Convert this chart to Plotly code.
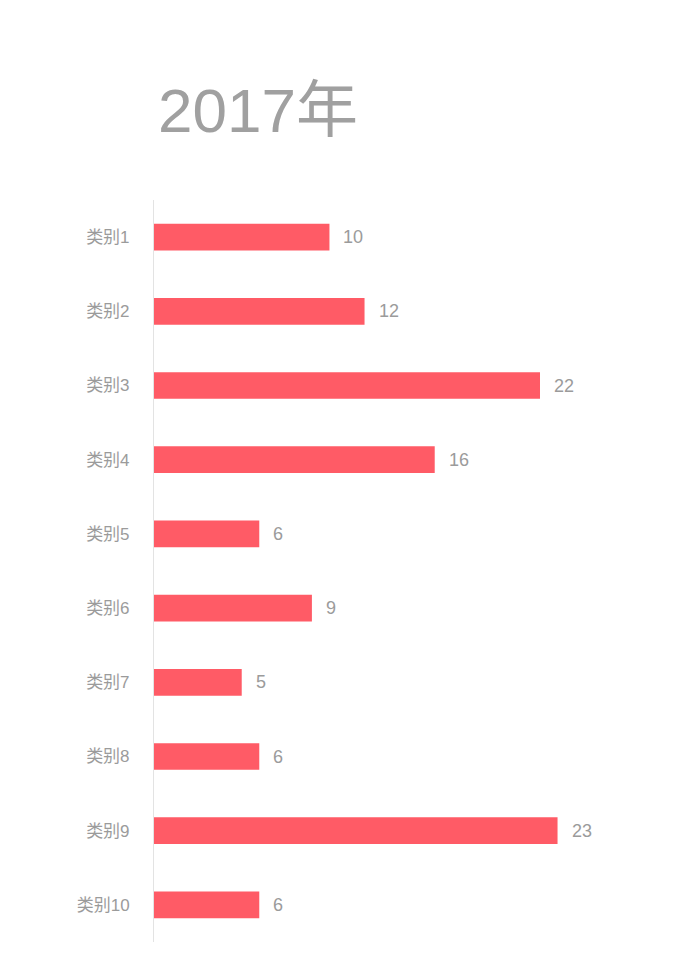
import plotly.graph_objects as go

categories = ["类别1", "类别2", "类别3", "类别4", "类别5", "类别6", "类别7", "类别8", "类别9", "类别10"]
values = [10, 12, 22, 16, 6, 9, 5, 6, 23, 6]
title_text = "2017年"

FONT = "Liberation Sans, Arial, Noto Sans CJK SC, sans-serif"
GREY = "#9b9b9b"

fig = go.Figure()
fig.add_trace(go.Bar(
    x=values, y=categories, orientation="h",
    marker=dict(color="#FF5B66", line=dict(width=0)),
    width=0.36, hoverinfo="skip",
))

for c, v in zip(categories, values):
    fig.add_annotation(x=v, y=c, text=str(v), showarrow=False,
                       xanchor="left", yanchor="middle", xshift=12,
                       font=dict(family=FONT, size=18, color=GREY))

fig.update_layout(
    width=700, height=970,
    margin=dict(l=154, r=110, t=200, b=28),
    paper_bgcolor="white", plot_bgcolor="white",
    showlegend=False,
    title=dict(text=title_text, xref="container", yref="container",
               x=158/700, xanchor="left", y=1-110/970, yanchor="middle",
               font=dict(family=FONT, size=62, color="#a0a0a0")),
    xaxis=dict(range=[0, 24.85], visible=False, fixedrange=True),
    yaxis=dict(type="category", autorange="reversed", showgrid=False,
               showline=True, linecolor="#e3e3e3", linewidth=1,
               ticks="", ticklabelstandoff=20, zeroline=False,
               tickfont=dict(family=FONT, size=17, color=GREY)),
)

fig.write_html("out.html")
